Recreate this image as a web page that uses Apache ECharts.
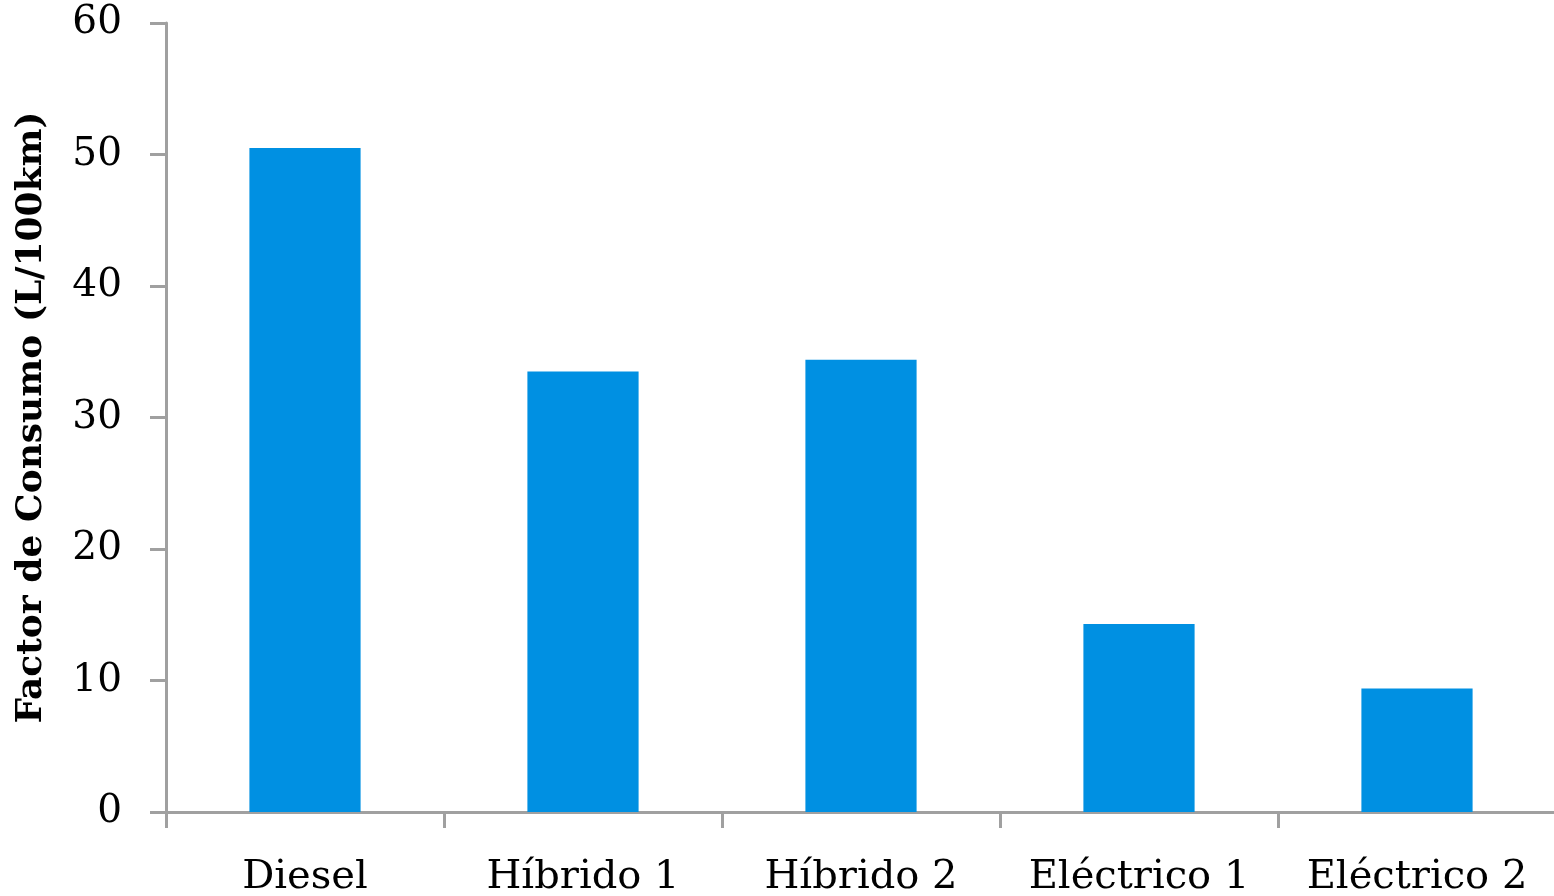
<!DOCTYPE html>
<html>
<head>
<meta charset="utf-8">
<script src="https://cdn.jsdelivr.net/npm/echarts@6/dist/echarts.min.js"></script>
<style>
html,body{margin:0;padding:0;background:#fff;}
#chart{width:1554px;height:896px;}
</style>
</head>
<body>
<div id="chart"></div>
<script>
const categories = ['Diesel', 'Híbrido 1', 'Híbrido 2', 'Eléctrico 1', 'Eléctrico 2'];
const values = [50.5, 33.5, 34.4, 14.3, 9.4];
const yTitle = 'Factor de Consumo (L/100km)';

const chart = echarts.init(document.getElementById('chart'));
const axisGray = '#a0a0a0';
const font = '"DejaVu Serif", "Liberation Serif", serif';
chart.setOption({
  animation: false,
  backgroundColor: '#fff',
  grid: { left: 166, right: -2, top: 23, bottom: 84, containLabel: false, outerBoundsMode: 'none' },
  xAxis: {
    type: 'category',
    data: categories,
    axisLine: { lineStyle: { color: axisGray, width: 3 } },
    axisTick: { show: true, length: 16, lineStyle: { color: axisGray, width: 3 } },
    axisLabel: { color: '#000', fontFamily: font, fontSize: 40, margin: 46, interval: 0 },
    splitLine: { show: false }
  },
  yAxis: {
    type: 'value',
    min: 0, max: 60, interval: 10,
    name: yTitle,
    nameLocation: 'middle',
    nameGap: 116,
    nameTextStyle: { color: '#000', fontFamily: font, fontSize: 36, fontWeight: 'bold' },
    axisLine: { show: true, lineStyle: { color: axisGray, width: 3 } },
    axisTick: { show: true, length: 16, lineStyle: { color: axisGray, width: 3 } },
    axisLabel: { color: '#000', fontFamily: font, fontSize: 39, margin: 44 },
    splitLine: { show: false }
  },
  series: [{
    type: 'bar',
    data: values,
    barWidth: '40%',
    itemStyle: { color: '#0090e2' }
  }]
});
</script>
</body>
</html>
